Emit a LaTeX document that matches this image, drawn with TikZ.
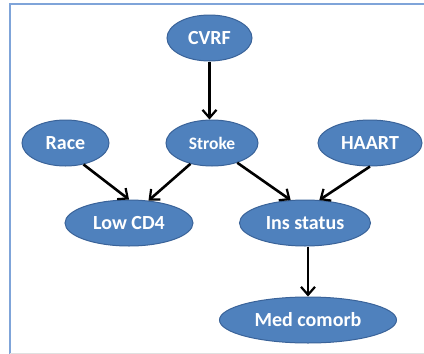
\documentclass[tikz,border=0pt]{standalone}
\usepackage{fontspec}
\setmainfont{Carlito}
\usetikzlibrary{arrows.meta,shapes.geometric}
\definecolor{nodefill}{HTML}{4F81BD}
\definecolor{nodeedge}{HTML}{3A6399}
\definecolor{frameblue}{HTML}{7FA4D9}
\tikzset{
  bn/.style={ellipse, fill=nodefill, draw=nodeedge, line width=1pt, text=white,
    font=\bfseries\fontsize{20}{21}\selectfont, inner sep=0pt},
  arr/.style={line width=2.6pt, -{Straight Barb[length=8pt,width=14pt,line width=2.2pt]}}
}
\begin{document}
\begin{tikzpicture}[x=1pt,y=-1pt]
\useasboundingbox (0,0) rectangle (424,354);
\draw[frameblue, line width=2pt] (10,354) -- (10,4) -- (424,4);
\draw[black!12, line width=1pt] (10,353) -- (424,353);
\node[bn, minimum width=85, minimum height=46] (cvrf) at (209.5,38) {CVRF};
\node[bn, minimum width=87, minimum height=46] (race) at (65.5,143) {Race};
\node[bn, minimum width=92, minimum height=46, font=\bfseries\fontsize{17.5}{18}\selectfont] (stroke) at (212,143) {Stroke};
\node[bn, minimum width=104, minimum height=46] (haart) at (370,143) {HAART};
\node[bn, minimum width=128, minimum height=46] (lowcd4) at (129,223) {Low CD4};
\node[bn, minimum width=131, minimum height=46] (ins) at (305,223) {Ins status};
\node[bn, minimum width=177, minimum height=46] (med) at (308,320) {Med comorb};
\draw[arr] (cvrf.south) -- (cvrf.south |- stroke.north);
\draw[arr] (race.-50) -- (lowcd4.north);
\draw[arr] (stroke.-136) -- (lowcd4.49);
\draw[arr] (stroke.-38) -- (ins.122);
\draw[arr] (haart.south) -- (ins.58);
\draw[arr] (med.north |- ins.south) -- (med.north);
\end{tikzpicture}
\end{document}
